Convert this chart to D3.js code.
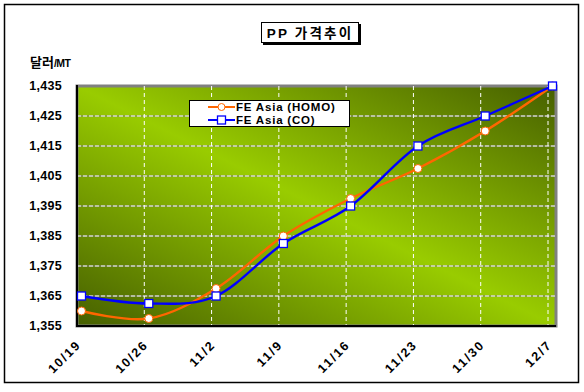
<!DOCTYPE html>
<html><head><meta charset="utf-8">
<script src="https://cdn.jsdelivr.net/npm/d3@7"></script>
<style>
body{margin:0;background:#fff;}
svg text{font-family:"Liberation Sans",Arial,"Noto Sans CJK KR",sans-serif;font-weight:bold;}
</style></head>
<body>
<svg id="c" width="584" height="392"></svg>
<script>
const categories = ["10/19","10/26","11/2","11/9","11/16","11/23","11/30","12/7"];
const homo = [1360,1357.5,1367.5,1385,1397.5,1407.5,1420,1435];
const co   = [1365,1362.5,1365,1382.5,1395,1415,1425,1435];
const yTicks = [1355,1365,1375,1385,1395,1405,1415,1425,1435];
const seriesNames = ["FE Asia (HOMO)","FE Asia (CO)"];
const title = "PP 가격추이";
const unitLabel = "달러";
const unitSuffix = "/MT";

const svg = d3.select("#c");
const L=77, R=556, T=86, B=326;

svg.append("rect").attr("x",4.5).attr("y",4.5).attr("width",574).attr("height",378)
  .attr("fill","#fff").attr("stroke","#000").attr("stroke-width",1.5);

const defs = svg.append("defs");
const g = defs.append("linearGradient").attr("id","bg")
  .attr("x1",0).attr("y1",1).attr("x2",1).attr("y2",0);
g.append("stop").attr("offset","0%").attr("stop-color","#465f00");
g.append("stop").attr("offset","50%").attr("stop-color","#99cc00");
g.append("stop").attr("offset","100%").attr("stop-color","#465f00");

const x = d3.scalePoint().domain(categories).range([L, 548]);
const mOff = 4.5;
const y = d3.scaleLinear().domain([1355,1435]).range([B,T]);

svg.append("rect").attr("x",L).attr("y",T).attr("width",R-L).attr("height",B-T)
  .attr("fill","url(#bg)").attr("stroke","#808080").attr("stroke-width",3);

const hg = svg.append("g");
yTicks.slice(1,-1).forEach(v=>{
  hg.append("line").attr("x1",L).attr("x2",R).attr("y1",y(v)).attr("y2",y(v))
    .attr("stroke","#808080").attr("stroke-width",1);
  hg.append("line").attr("x1",L).attr("x2",R).attr("y1",y(v)).attr("y2",y(v))
    .attr("stroke","#fff").attr("stroke-width",1).attr("stroke-dasharray","4,2");
});
categories.slice(1).forEach(c=>{
  svg.append("line").attr("x1",x(c)).attr("x2",x(c)).attr("y1",T).attr("y2",B)
    .attr("stroke","#fff").attr("stroke-width",1).attr("stroke-dasharray","4,3");
});

svg.append("line").attr("x1",L).attr("x2",L).attr("y1",T-1).attr("y2",B+1).attr("stroke","#000").attr("stroke-width",2);
svg.append("line").attr("x1",L-1).attr("x2",R).attr("y1",B).attr("y2",B).attr("stroke","#000").attr("stroke-width",2);

yTicks.forEach(v=>{
  svg.append("text").attr("x",62).attr("y",y(v)).attr("dy","0.35em")
    .attr("text-anchor","end").attr("font-size",12.5).attr("letter-spacing",0.3).text(d3.format(",")(v));
});
categories.forEach(c=>{
  const xx = x(c)-2, yy = 339;
  svg.append("text").attr("transform",`translate(${xx},${yy}) rotate(-45)`)
    .attr("text-anchor","end").attr("dy","0.75em").attr("font-size",12.5).attr("letter-spacing",1.8).text(c);
});

const ul = svg.append("text").attr("x",30).attr("y",67).attr("font-size",13);
ul.append("tspan").text(unitLabel);
ul.append("tspan").attr("font-size",10.5).attr("letter-spacing",-0.6).text(unitSuffix);

svg.append("rect").attr("x",263).attr("y",24).attr("width",98).attr("height",21).attr("fill","#000");
svg.append("rect").attr("x",261.5).attr("y",22.5).attr("width",97).attr("height",20).attr("fill","#fff").attr("stroke","#000").attr("stroke-width",1);
svg.append("text").attr("x",310).attr("y",37.5).attr("text-anchor","middle").attr("font-size",13.5)
  .attr("letter-spacing",2.2).text(title);

const line = d3.line().x((d,i)=>x(categories[i])+mOff).y(d=>y(d)).curve(d3.curveCardinal.tension(0));
svg.append("path").datum(homo).attr("d",line).attr("fill","none").attr("stroke","#ff6600").attr("stroke-width",2.4);
svg.append("path").datum(co).attr("d",line).attr("fill","none").attr("stroke","#0000ff").attr("stroke-width",2.4);

svg.selectAll(".mh").data(homo).join("circle").attr("cx",(d,i)=>x(categories[i])+mOff).attr("cy",d=>y(d))
  .attr("r",4).attr("fill","#fff").attr("stroke","#ff6600").attr("stroke-width",1);
svg.selectAll(".mc").data(co).join("rect").attr("x",(d,i)=>x(categories[i])+mOff-4).attr("y",d=>y(d)-4)
  .attr("width",8).attr("height",8).attr("fill","#fff").attr("stroke","#0000ff").attr("stroke-width",1.3);

svg.append("rect").attr("x",189.5).attr("y",100.5).attr("width",160).attr("height",26)
  .attr("fill","#fff").attr("stroke","#000").attr("stroke-width",1);
const lg = [{n:seriesNames[0],c:"#ff6600",t:"circle",yy:107},{n:seriesNames[1],c:"#0000ff",t:"rect",yy:120}];
lg.forEach(e=>{
  svg.append("line").attr("x1",208).attr("x2",235).attr("y1",e.yy).attr("y2",e.yy).attr("stroke",e.c).attr("stroke-width",2);
  if(e.t==="circle") svg.append("circle").attr("cx",221.5).attr("cy",e.yy).attr("r",3.5).attr("fill","#fff").attr("stroke",e.c).attr("stroke-width",1);
  else svg.append("rect").attr("x",217.5).attr("y",e.yy-4).attr("width",8).attr("height",8).attr("fill","#fff").attr("stroke",e.c).attr("stroke-width",1.3);
  svg.append("text").attr("x",236).attr("y",e.yy).attr("dy","0.36em").attr("font-size",11.5).attr("letter-spacing",0.8).text(e.n);
});
</script>
</body></html>
